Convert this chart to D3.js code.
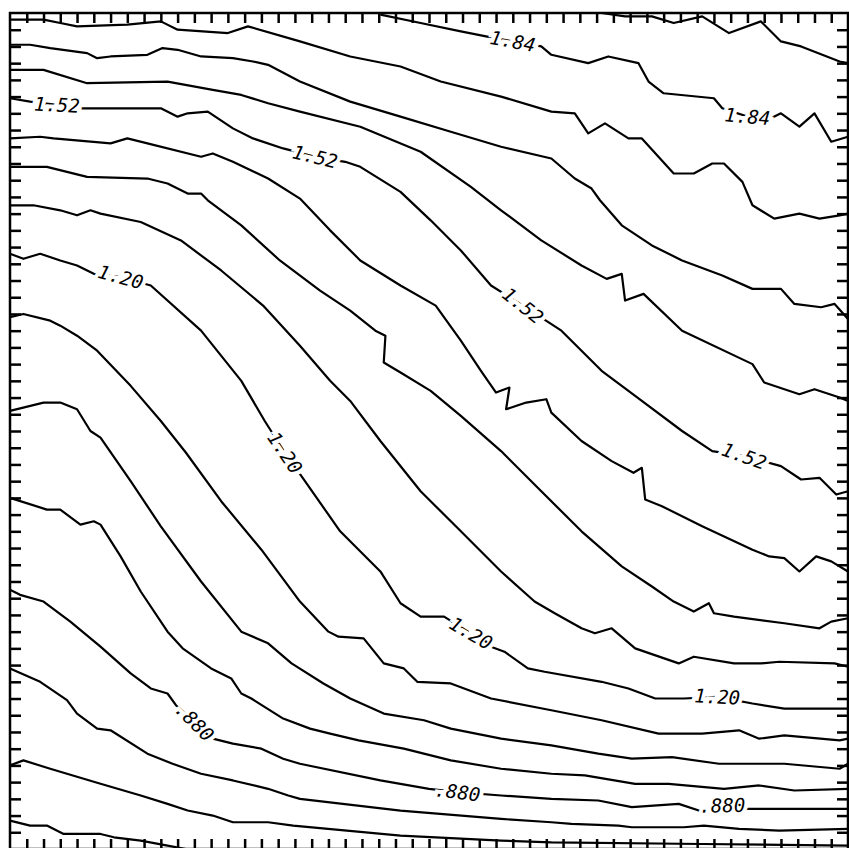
<!DOCTYPE html>
<html>
<head>
<meta charset="utf-8">
<script src="https://cdn.jsdelivr.net/npm/d3@7"></script>
<style>
  body { margin: 0; background: #fff; }
</style>
</head>
<body>
<div id="chart"></div>
<script>
// contour lines, in grid units (0..50 on both axes, y up)
const c192 = [[35.3,50],[36.7,49.8],[38.3,49.8],[39.6,49.4],[41.3,49.8],[42.9,48.8],[44.8,49.5],[46.0,48.3],[47.2,48.0],[49.5,47.1],[50,47.0]];
const c184 = [[22.1,49.9],[24.5,49.4],[26.9,48.9],[28.4,48.6],[30.0,48.3],[31.7,48.0],[32.3,47.5],[34.5,47.0],[35.7,47.4],[37.5,47.0],[38.1,45.9],[39.0,45.2],[42.0,44.9],[42.5,44.3],[44.0,43.8],[45.4,43.7],[46.0,44.0],[47.1,43.2],[48.0,44.0],[49.0,42.3],[50,42.6]];
const c176 = [[0,49.6],[2.0,49.6],[3.0,49.4],[4.0,49.2],[7.0,49.3],[9.0,49.5],[10.0,49.0],[13.0,48.8],[14.2,49.2],[17.3,48.3],[20.3,47.4],[23.3,46.8],[25.7,45.9],[29.3,45.0],[32.3,44.1],[33.7,44.0],[34.5,42.8],[35.5,43.4],[36.9,42.5],[37.7,42.5],[39.6,40.4],[40.8,40.4],[41.9,41.0],[42.6,41.0],[43.7,39.9],[44.3,38.5],[45.6,37.7],[47.1,38.0],[48.3,37.7],[49.5,37.9],[50,38.0]];
const c168 = [[0,48.1],[1.2,48.1],[2.4,47.9],[4.6,47.6],[5.2,47.3],[6.0,47.4],[8.2,47.5],[9.1,47.9],[10.0,47.8],[11.4,47.4],[13.3,47.3],[14.5,47.1],[15.4,46.9],[17.3,45.9],[20.3,44.7],[23.3,43.8],[26.3,42.9],[29.3,42.0],[32.3,41.3],[33.7,40.1],[34.7,39.5],[35.2,38.8],[36.5,37.3],[38.3,36.1],[40.1,35.2],[42.5,34.3],[44.3,33.5],[46.0,33.5],[46.8,32.6],[48.4,32.4],[49.2,32.6],[50,31.7]];
const c160 = [[0,46.6],[2.0,46.6],[4.6,45.8],[9.4,45.9],[12.1,45.4],[13.8,45.1],[15.4,44.6],[17.3,44.1],[20.9,43.2],[24.5,41.7],[27.5,39.6],[29.3,38.2],[31.7,36.4],[34.1,34.9],[35.6,34.1],[36.5,34.4],[36.7,32.8],[37.8,33.2],[40.1,31.0],[44.3,29.0],[45.0,27.9],[47.1,27.2],[48.0,27.5],[49.5,27.0],[50,26.8]];
const c152 = [[0,44.9],[1.2,44.7],[2.8,44.5],[4.2,44.3],[9.0,44.3],[10.0,43.8],[10.6,44.0],[11.8,44.1],[13.3,43.1],[14.5,42.5],[16.3,41.9],[18.2,41.4],[20.0,41.1],[20.9,40.8],[23.3,39.3],[25.1,37.6],[26.9,35.8],[28.7,33.7],[30.6,32.5],[32.9,31.0],[35.3,28.6],[37.7,26.8],[40.1,25.0],[41.9,23.8],[43.8,23.5],[46.0,22.9],[47.2,22.1],[48.3,22.2],[49.3,21.2],[50,21.4]];
const c144 = [[0,42.5],[1.8,42.6],[2.6,42.5],[6.0,42.2],[7.0,42.5],[8.2,42.2],[11.4,41.4],[12.1,41.6],[13.3,41.1],[15.4,40.1],[17.3,38.9],[19.1,37.0],[20.9,35.2],[23.3,33.7],[25.4,32.5],[26.9,30.4],[28.1,28.6],[29.0,27.3],[29.8,27.6],[29.6,26.3],[30.8,26.7],[32.0,26.9],[32.3,26.1],[34.1,24.4],[35.9,23.2],[37.2,22.5],[37.7,22.8],[37.9,20.9],[38.9,20.5],[41.3,19.3],[44.3,17.9],[45.3,17.5],[46.2,17.4],[47.1,16.6],[48.1,17.5],[49.0,17.2],[50,16.6]];
const c136 = [[0,40.8],[2.2,40.8],[4.6,40.2],[8.2,40.1],[9.4,39.8],[10.6,39.2],[11.4,39.2],[11.8,38.8],[13.8,37.3],[16.1,35.2],[18.5,33.4],[20.3,32.2],[21.8,31.0],[22.4,30.7],[22.3,29.1],[23.3,28.5],[25.1,27.4],[26.9,25.9],[29.3,23.8],[31.7,21.4],[34.1,19.0],[36.5,16.9],[38.3,15.7],[39.6,14.8],[40.8,14.2],[41.7,14.7],[42.0,14.1],[43.2,13.9],[46.2,13.5],[48.3,13.2],[49.0,13.6],[50,13.8]];
const c128 = [[0,38.5],[1.4,38.5],[3.0,38.2],[4.0,37.9],[4.8,38.2],[5.4,38.0],[7.8,37.5],[10.2,36.4],[12.6,34.6],[15.1,32.5],[17.3,30.1],[19.1,28.0],[20.3,26.8],[22.1,24.4],[24.5,21.4],[26.9,19.0],[29.3,16.6],[31.3,14.8],[32.5,14.1],[34.1,13.2],[34.9,12.9],[35.9,13.2],[37.3,12.0],[39.9,11.1],[40.8,11.5],[43.2,11.1],[44.8,11.1],[45.9,11.2],[49.2,11.1],[50,10.9]];
const c120 = [[0,35.6],[0.8,35.3],[1.8,35.6],[3.0,35.2],[4.0,34.9],[5.0,34.4],[6.6,34.2],[8.4,33.7],[11.4,31.0],[13.8,28.0],[15.2,25.6],[16.4,23.7],[17.6,22.0],[19.7,19.0],[22.1,16.6],[23.3,14.7],[24.5,13.9],[25.9,13.9],[27.5,12.9],[28.7,12.1],[29.5,11.8],[30.9,10.8],[31.9,10.6],[35.3,10.0],[36.9,9.6],[38.5,9.0],[40.2,9.0],[42.2,9.1],[44.3,8.7],[46.2,8.4],[50,8.4]];
const c112 = [[0,31.8],[0.8,32.0],[2.4,31.6],[3.0,31.3],[4.0,30.7],[5.2,29.8],[7.2,27.7],[9.0,25.6],[10.5,23.7],[12.6,20.8],[15.0,17.9],[17.3,14.8],[19.0,13.0],[19.6,12.7],[21.1,12.6],[22.3,11.1],[23.5,10.8],[24.3,10.0],[26.3,9.9],[28.7,9.0],[32.3,8.3],[35.3,7.7],[38.7,6.9],[41.3,6.9],[43.5,7.1],[44.7,6.6],[46.2,6.8],[49.5,6.5],[50,6.6]];
const c104 = [[0,26.2],[2.0,26.7],[3.0,26.7],[4.0,26.3],[4.8,25.0],[5.4,24.6],[7.2,22.0],[9.0,19.3],[11.4,16.0],[13.8,13.0],[15.4,12.3],[16.8,11.1],[18.7,9.9],[20.3,9.0],[22.3,8.1],[24.7,7.7],[26.3,7.2],[29.3,6.6],[32.3,6.2],[35.1,5.7],[37.1,5.4],[39.5,5.5],[42.3,5.1],[44.3,5.1],[46.2,5.1],[49.5,4.8],[50,5.1]];
const c096 = [[0,21.0],[2.2,20.3],[3.0,20.3],[4.2,19.4],[5.0,19.6],[5.4,19.4],[6.6,17.5],[7.8,15.4],[9.4,13.0],[10.3,12.0],[12.0,10.8],[13.2,10.2],[13.8,9.3],[14.4,9.0],[16.3,7.8],[17.9,7.2],[19.1,6.9],[20.8,6.5],[23.5,6.0],[26.3,5.3],[29.3,4.8],[32.3,4.5],[34.3,4.4],[37.3,3.9],[39.3,3.9],[42.6,3.6],[44.7,3.8],[46.8,3.5],[50,3.6]];
const c088 = [[0,15.5],[0.6,15.2],[2.0,14.8],[3.6,13.6],[5.4,12.1],[7.2,10.5],[8.4,9.6],[9.4,9.3],[9.9,8.6],[11.0,7.6],[12.1,6.6],[13.3,6.3],[15.0,6.0],[16.3,5.4],[17.3,5.1],[22.1,4.1],[25.0,3.6],[26.7,3.4],[29.3,3.2],[32.3,3.0],[35.1,2.9],[37.1,2.5],[39.9,2.7],[41.1,2.3],[42.5,2.6],[43.8,2.4],[45.3,2.4],[50,2.4]];
const c080 = [[0,10.8],[1.8,10.0],[3.4,8.9],[4.0,8.1],[5.2,7.2],[6.0,7.1],[8.2,5.7],[9.7,5.1],[11.4,4.5],[13.3,4.1],[15.4,3.6],[16.6,3.2],[17.3,3.0],[23.3,2.3],[29.3,1.8],[32.3,1.6],[33.5,1.5],[36.3,1.4],[37.1,1.3],[40.2,1.3],[41.4,1.4],[43.5,1.2],[45.9,1.1],[50,1.2]];
const c072 = [[0,5.0],[0.8,5.3],[2.4,4.8],[4.4,4.2],[5.4,3.9],[7.8,3.2],[9.4,2.7],[10.6,2.3],[12.1,2.0],[13.3,1.6],[15.4,1.6],[16.9,1.4],[23.3,0.8],[29.3,0.5],[32.3,0.4],[41.3,0.3],[50,0.2]];
const c064 = [[0,1.7],[1.2,1.4],[2.2,1.4],[3.2,0.9],[5.4,0.9],[6.2,0.7],[7.8,0.5],[9.4,0.2],[10.5,0]];

const contourLines = [c192, c184, c176, c168, c160, c152, c144, c136, c128, c120, c112, c104, c096, c088, c080, c072, c064];

// labels: text and position along its line (grid units)
const labelText = ["1.84", "1.84", "1.52", "1.52", "1.52", "1.52", "1.20", "1.20", "1.20", "1.20", ".880", ".880", ".880"];
const labelLine = [c184, c184, c152, c152, c152, c152, c120, c120, c120, c120, c088, c088, c088];
const labelAt = [[30.0,48.3],[44.0,43.8],[2.8,44.5],[18.2,41.4],[30.6,32.5],[43.8,23.5],[6.6,34.2],[16.4,23.7],[27.5,12.9],[42.2,9.1],[11.0,7.6],[26.7,3.4],[42.5,2.6]];

const ticks = d3.range(1, 50);

const width = 849, height = 848;
const x = d3.scaleLinear().domain([0, 50]).range([10, 848]);
const y = d3.scaleLinear().domain([0, 50]).range([849, 13]);

const svg = d3.select("#chart").append("svg")
    .attr("width", width)
    .attr("height", height);

const line = d3.line().x(d => x(d[0])).y(d => y(d[1]));

// draw contours
svg.append("g")
    .selectAll("path")
    .data(contourLines)
    .enter()
    .append("path")
    .attr("d", line)
    .attr("fill", "none")
    .attr("stroke", "#000")
    .attr("stroke-width", 2.2)
    .attr("stroke-linejoin", "round");

// angle of a line near a point, in screen space
function angleAt(pts, p) {
    let best = 0, bestD = Infinity;
    for (let i = 0; i < pts.length - 1; i++) {
        const mx = (pts[i][0] + pts[i + 1][0]) / 2, my = (pts[i][1] + pts[i + 1][1]) / 2;
        const dd = (mx - p[0]) ** 2 + (my - p[1]) ** 2;
        if (dd < bestD) { bestD = dd; best = i; }
    }
    const a = pts[Math.max(0, best - 1)], b = pts[Math.min(pts.length - 1, best + 2)];
    return Math.atan2(y(b[1]) - y(a[1]), x(b[0]) - x(a[0])) * 180 / Math.PI;
}

// labels with white halo to break the line
svg.append("g")
    .selectAll("text")
    .data(labelText)
    .enter()
    .append("text")
    .text(d => d)
    .attr("transform", (d, i) => `translate(${x(labelAt[i][0])},${y(labelAt[i][1])}) rotate(${angleAt(labelLine[i], labelAt[i])})`)
    .attr("text-anchor", "middle")
    .attr("dy", "0.35em")
    .attr("font-family", "DejaVu Sans Mono, monospace")
    .attr("font-style", "italic")
    .attr("font-size", 19)
    .attr("fill", "#000")
    .attr("stroke", "#fff")
    .attr("stroke-width", 8)
    .attr("paint-order", "stroke");

// frame with inward ticks on all four sides
const sides = [
    [d3.axisTop(x), `translate(0,${y(50)})`, 10],
    [d3.axisBottom(x), `translate(0,${y(0)})`, 10],
    [d3.axisLeft(y), `translate(${x(0)},0)`, 11],
    [d3.axisRight(y), `translate(${x(50)},0)`, 11]
];
sides.forEach(([axis, t, len]) => {
    const g = svg.append("g")
        .attr("transform", t)
        .call(axis.tickValues(ticks).tickSize(-len).tickFormat(""));
    g.select(".domain").remove();
    g.selectAll(".tick line").attr("stroke", "#000").attr("stroke-width", 2.5);
});

svg.append("rect")
    .attr("x", x(0))
    .attr("y", y(50))
    .attr("width", x(50) - x(0))
    .attr("height", y(0) - y(50))
    .attr("fill", "none")
    .attr("stroke", "#000")
    .attr("stroke-width", 2.5);
</script>
</body>
</html>
